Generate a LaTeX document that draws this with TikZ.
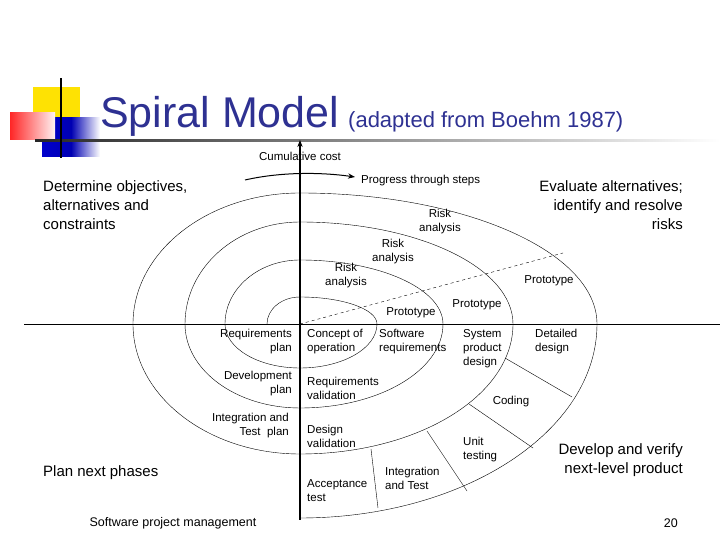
\documentclass[tikz,border=0pt]{standalone}
\usepackage{fontspec}
\setmainfont{Liberation Sans}
\usetikzlibrary{arrows.meta}
\definecolor{navy}{HTML}{2E3192}
\begin{document}
\begin{tikzpicture}[x=1pt,y=1pt,
  lbl/.style={font=\fontsize{11.5}{14}\selectfont,inner sep=0pt,align=left,anchor=north west},
  lblr/.style={font=\fontsize{11.5}{14}\selectfont,inner sep=0pt,align=right,anchor=north east},
  lblc/.style={font=\fontsize{11.5}{14}\selectfont,inner sep=0pt,align=center},
  big/.style={font=\fontsize{15}{19}\selectfont,inner sep=0pt}]
\useasboundingbox (0,0) rectangle (720,540);
% decoration
\fill[yellow!85!orange] (33,405) rectangle (80,453);
\shade[left color=blue!80!black, right color=white, middle color=blue!70!black] (42,383) rectangle (100,422);
\shade[left color=red!85, right color=red!5] (10,400) rectangle (55,427);
\shade[left color=black!85, right color=white] (35,398) rectangle (720,400.5);
\draw[line width=2pt] (61,382) -- (61,462);
\node[anchor=base west,inner sep=0pt,text=navy,font=\fontsize{43}{48}\selectfont] (t1) at (100,412) {Spiral Model};
\node[anchor=base west,inner sep=0pt,text=navy,font=\fontsize{22}{26}\selectfont] (t2) at (348,412) {(adapted from Boehm 1987)};
% axes
\draw (24,216) -- (720,216);
\draw[line width=1.5pt,-{Stealth[length=7pt]}] (300,20) -- (300,400);
\node[lblc] (cc) at (300,384) {Cumulative cost};
\draw[line width=1pt,-{Stealth[length=7pt]}] (245,360) .. controls (280,368) and (320,368) .. (355,363);
\node[lbl,anchor=west] (pr) at (361,359) {Progress through steps};
% spiral
\draw (267,216) arc[start angle=180,end angle=90,x radius=33,y radius=27]
  arc[start angle=90,end angle=0,x radius=77,y radius=27]
  arc[start angle=0,end angle=-90,x radius=77,y radius=44]
  arc[start angle=270,end angle=180,x radius=75,y radius=44]
  arc[start angle=180,end angle=90,x radius=75,y radius=64]
  arc[start angle=90,end angle=0,x radius=143,y radius=64]
  arc[start angle=0,end angle=-90,x radius=143,y radius=84]
  arc[start angle=270,end angle=180,x radius=115,y radius=84]
  arc[start angle=180,end angle=90,x radius=115,y radius=102]
  arc[start angle=90,end angle=0,x radius=213,y radius=102]
  arc[start angle=0,end angle=-90,x radius=213,y radius=130]
  arc[start angle=270,end angle=180,x radius=167,y radius=130]
  arc[start angle=180,end angle=90,x radius=167,y radius=131]
  arc[start angle=90,end angle=0,x radius=297,y radius=131]
  arc[start angle=0,end angle=-90,x radius=297,y radius=194];
\draw[dashed] (300,216) -- (563,287);
\draw (505,182) -- (572,143);
\draw (469,136) -- (533,92);
\draw (427,109) -- (467,49);
\draw (371,91) -- (378,32);
% quadrant labels
\node[big,align=left,anchor=north west] (q1) at (43,360) {Determine objectives,\\alternatives and\\constraints};
\node[big,align=right,anchor=north east] (q2) at (683,360) {Evaluate alternatives;\\identify and resolve\\risks};
\node[big,anchor=west] (q3) at (43,67) {Plan next phases};
\node[big,align=right,anchor=north east] (q4) at (683,97) {Develop and verify\\next-level product};
% labels
\node[lblc] (r1) at (440,318) {Risk\\analysis};
\node[lblc] (r2) at (393,288) {Risk\\analysis};
\node[lblc] (r3) at (346,264) {Risk\\analysis};
\node[lblc] (p1) at (411,227) {Prototype};
\node[lblc] (p2) at (477,235) {Prototype};
\node[lblc] (p3) at (549,259) {Prototype};
\node[lblr] (a1) at (292,211) {Requirements\\plan};
\node[lbl] (a2) at (307,211) {Concept of\\operation};
\node[lbl] (a3) at (379,211) {Software\\requirements};
\node[lbl] (a4) at (463,211) {System\\product\\design};
\node[lbl] (a5) at (535,211) {Detailed\\design};
\node[lblr] (b1) at (292,169) {Development\\plan};
\node[lbl] (b2) at (307,163) {Requirements\\validation};
\node[lblc] (b3) at (511,138) {Coding};
\node[lblr] (c1) at (289,127) {Integration and\\Test\ \ plan};
\node[lbl] (c2) at (307,115) {Design\\validation};
\node[lbl] (c3) at (463,103) {Unit\\testing};
\node[lbl] (d1) at (385,73) {Integration\\and Test};
\node[lbl] (d2) at (307,61) {Acceptance\\test};
\node[lblc,font=\fontsize{12.5}{14}\selectfont] (f1) at (173,17) {Software project management};
\node[lblc,anchor=east,font=\fontsize{12.5}{14}\selectfont] (f2) at (678,17) {20};
\end{tikzpicture}
\end{document}
